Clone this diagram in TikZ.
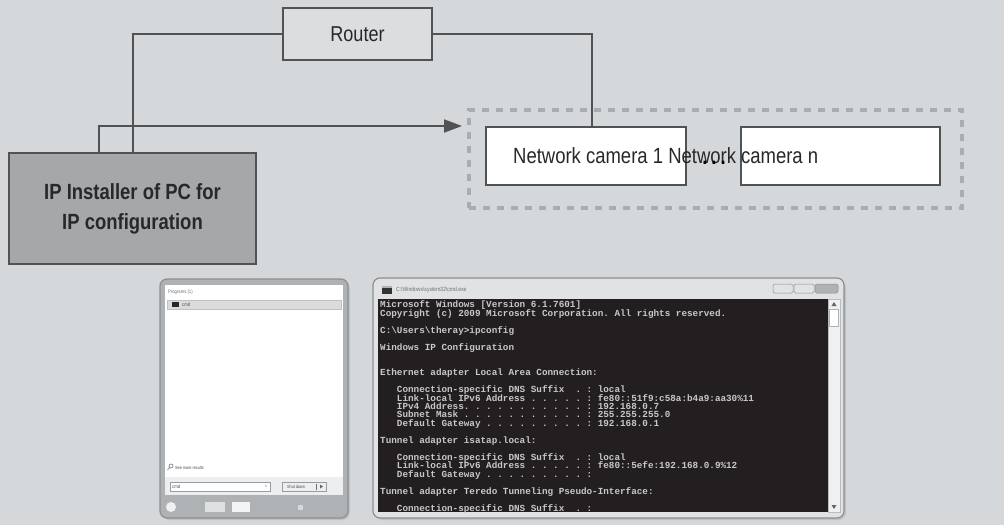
\documentclass[tikz,border=0pt]{standalone}
\usepackage{fontspec}
\setmainfont{Liberation Sans}[FakeStretch=0.84]
\setmonofont{Liberation Mono}
\usetikzlibrary{arrows.meta}

\definecolor{bggray}{RGB}{213,216,218}
\definecolor{routerfill}{RGB}{219,221,223}
\definecolor{pcfill}{RGB}{165,167,169}
\definecolor{linegray}{RGB}{80,82,84}
\definecolor{dashgray}{RGB}{170,173,176}
\definecolor{textgray}{RGB}{40,40,40}
\definecolor{shadowgray}{RGB}{190,193,196}
\definecolor{framegray}{RGB}{140,143,146}
\definecolor{menuframe}{RGB}{175,178,181}
\definecolor{searchgray}{RGB}{236,238,239}
\definecolor{rowgray}{RGB}{218,220,222}
\definecolor{smallgray}{RGB}{110,113,116}
\definecolor{cmdframe}{RGB}{224,226,228}
\definecolor{consolebg}{RGB}{35,31,32}
\definecolor{consoletext}{RGB}{200,200,200}
\definecolor{scrollgray}{RGB}{238,240,241}

\newcommand{\cmdindent}{\phantom{xxx}}
\newcommand{\consolefont}{\ttfamily\bfseries\fontsize{9.3}{8.46}\selectfont\setlength{\lineskiplimit}{-20pt}\setlength{\lineskip}{0pt}}

\begin{document}
\begin{tikzpicture}[x=1pt, y=-1pt,
    box/.style={draw=linegray, line width=2pt, inner sep=0pt},
    link/.style={draw=linegray, line width=2pt},
    winframe/.style={draw=framegray, line width=1.2pt, rounded corners=7pt},
    tinytext/.style={font=\fontsize{5}{6}\selectfont, text=smallgray, inner sep=0pt, anchor=west}
]
    \fill[bggray] (0,0) rectangle (1004,525);
    \useasboundingbox (0,0) rectangle (1004,525);

    % Router und PC
    \node[box, fill=routerfill, minimum width=149pt, minimum height=52pt, text=textgray,
          font=\fontsize{21.5}{24}\selectfont] (router) at (357.5,34) {Router};
    \node[box, fill=pcfill, minimum width=247pt, minimum height=111pt, align=center, text=textgray,
          font=\fontsize{22}{30}\selectfont\bfseries] (pc) at (132.5,208.5) {IP Installer of PC for\\IP configuration};

    % Kameras
    \node[draw=dashgray, line width=4pt, dash pattern=on 7pt off 7pt, minimum width=493pt,
          minimum height=98pt, inner sep=0pt] (group) at (715.5,159) {};
    \node[box, fill=white, minimum width=200pt, minimum height=58pt] (cam1) at (586,156) {};
    \node[box, fill=white, minimum width=199pt, minimum height=58pt] (camn) at (840.5,156) {};
    \node[anchor=base west, inner sep=0pt, text=textgray, font=\fontsize{22}{24}\selectfont]
          (camtext) at (513,163) {Network camera 1 Network camera n};
    \node[anchor=base, inner sep=0pt, text=black, font=\fontsize{22}{24}\bfseries\selectfont]
          (dots) at (714,164) {.\hspace{4pt}.\hspace{4pt}.};

    % Verbindungen
    \coordinate (arrowend) at (462,126);
    \draw[link] (router.west) -| (pc.north);
    \draw[link] (router.east) -| ([xshift=6pt]cam1.north);
    \draw[link, -{Triangle[length=18pt, width=13pt]}] ([xshift=-33.5pt]pc.north) |- (arrowend);

    % Startmenue
    \fill[shadowgray, rounded corners=8pt] (162,281) rectangle (350,520);
    \draw[winframe, fill=menuframe] (160,279) rectangle (348,518);
    \fill[white] (165,285) rectangle (343,477);
    \fill[searchgray] (165,477) rectangle (343,495);
    \node[tinytext] (programs) at (168,292) {Programs (1)};
    \draw[draw=shadowgray, fill=rowgray] (167,300) rectangle (341,309);
    \fill[black!85] (172,302) rectangle (179,307);
    \node[tinytext, text=black!70] (cmdentry) at (182,304.5) {cmd};
    \draw[smallgray, line width=0.6pt] (171,466) circle (2pt) (169.5,467.5) -- (167.5,470);
    \node[tinytext, text=black!70, font=\fontsize{4.5}{5}\selectfont] (seemore) at (175,468) {See more results};
    \draw[draw=smallgray!70, fill=white, line width=0.5pt] (170,482) rectangle (270,491);
    \node[tinytext, text=black!70] (search) at (172,486.5) {cmd};
    \node[tinytext, text=black!60, font=\fontsize{4}{5}\selectfont] (clear) at (265,486.5) {x};
    \draw[draw=smallgray!70, fill=searchgray, line width=0.5pt] (282,482) rectangle (326,491);
    \node[tinytext, text=black!70, font=\fontsize{4.5}{5}\selectfont] (shutdown) at (287,486.5) {Shut down};
    \draw[smallgray, line width=0.4pt] (316,483.5) -- (316,489.5);
    \fill[black!60] (320,484.5) -- (323,486.5) -- (320,488.5) -- cycle;
    \fill[white!80!menuframe] (171,507) circle (5pt);
    \fill[white!60!menuframe] (205,502) rectangle (225,512);
    \fill[white!85!menuframe] (232,502) rectangle (250,512);
    \fill[white!50!menuframe] (298,505) rectangle (303,510);

    % cmd Fenster
    \fill[shadowgray, rounded corners=8pt] (375,280) rectangle (846,520);
    \draw[winframe, fill=cmdframe] (373,278) rectangle (844,518);
    \fill[consolebg] (378,299) rectangle (828,512);
    \draw[draw=framegray!60, fill=scrollgray, line width=0.5pt] (828,299) rectangle (840,512);
    \fill[black!60] (834,302) -- (836.5,306) -- (831.5,306) -- cycle;
    \fill[black!60] (834,509) -- (836.5,505) -- (831.5,505) -- cycle;
    \draw[draw=framegray!70, fill=white] (829.5,309) rectangle (838.5,326);
    \fill[black!80] (382,286) rectangle (392,294);
    \fill[white!70!black] (382,286) rectangle (392,288);
    \node[tinytext, font=\fontsize{6}{7}\selectfont] (title) at (396,290) {C:\textbackslash Windows\textbackslash system32\textbackslash cmd.exe};
    \draw[draw=framegray, fill=cmdframe, line width=0.5pt, rounded corners=1.5pt] (773,284) rectangle (793,293);
    \draw[draw=framegray, fill=cmdframe, line width=0.5pt, rounded corners=1.5pt] (794,284) rectangle (814,293);
    \draw[draw=framegray, fill=framegray!70, line width=0.5pt, rounded corners=1.5pt] (815,284) rectangle (838,293);
    \node[anchor=base west, inner sep=0pt, align=left, text=consoletext, font=\consolefont]
          (console) at (380,511) {Microsoft Windows [Version 6.1.7601]\\
Copyright (c) 2009 Microsoft Corporation.  All rights reserved.\\[8.46pt]
C:\textbackslash Users\textbackslash theray>ipconfig\\[8.46pt]
Windows IP Configuration\\[16.92pt]
Ethernet adapter Local Area Connection:\\[8.46pt]
\cmdindent Connection-specific DNS Suffix\ \ . : local\\
\cmdindent Link-local IPv6 Address . . . . . : fe80::51f9:c58a:b4a9:aa30\%11\\
\cmdindent IPv4 Address. . . . . . . . . . . : 192.168.0.7\\
\cmdindent Subnet Mask . . . . . . . . . . . : 255.255.255.0\\
\cmdindent Default Gateway . . . . . . . . . : 192.168.0.1\\[8.46pt]
Tunnel adapter isatap.local:\\[8.46pt]
\cmdindent Connection-specific DNS Suffix\ \ . : local\\
\cmdindent Link-local IPv6 Address . . . . . : fe80::5efe:192.168.0.9\%12\\
\cmdindent Default Gateway . . . . . . . . . :\\[8.46pt]
Tunnel adapter Teredo Tunneling Pseudo-Interface:\\[8.46pt]
\cmdindent Connection-specific DNS Suffix\ \ . :};
\end{tikzpicture}
\end{document}
